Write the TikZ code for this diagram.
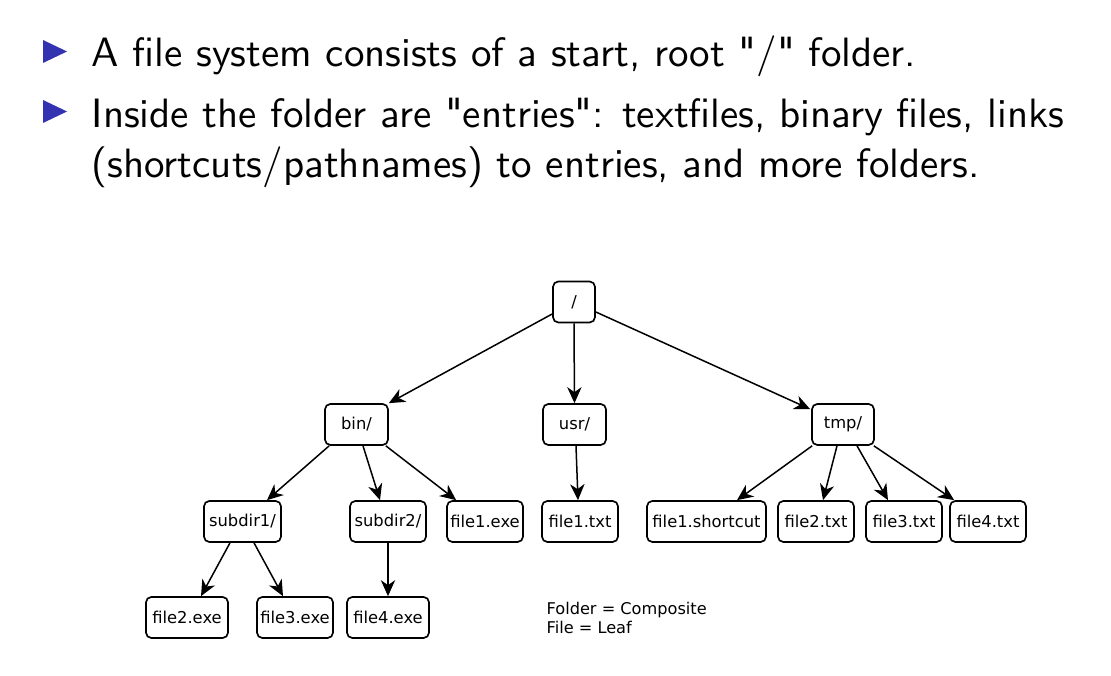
\documentclass[tikz,border=0pt]{standalone}
\usepackage{fontspec}
\newfontfamily\itemfont{lmsans10-regular.otf}[Ligatures=TeXOff]
\newfontfamily\treefont{DejaVu Sans}
\usetikzlibrary{arrows.meta,calc}
\definecolor{bulletblue}{RGB}{51,51,178}

\begin{document}
\begin{tikzpicture}[x=0.3pt,y=-0.3pt,
  entry/.style={draw, line width=0.5pt, rounded corners=1.6pt,
    minimum height=12.3pt, minimum width=#1*0.3pt, inner sep=0pt,
    font=\treefont\fontsize{4.9pt}{5.9pt}\selectfont},
  link/.style={line width=0.45pt, -{Stealth[length=4.8pt,width=4.3pt,inset=1.5pt]}},
  itemline/.style={anchor=base west, inner sep=0pt,
    font=\itemfont\fontsize{12.3pt}{14pt}\selectfont},
  legend/.style={anchor=base west, inner sep=0pt,
    font=\treefont\fontsize{4.85pt}{5.9pt}\selectfont}]

\useasboundingbox (0,0) rectangle (1111,676);

% bullets
\fill[bulletblue] (43,40) -- (67,51.5) -- (43,63) -- cycle;
\fill[bulletblue] (43,100) -- (67,111.5) -- (43,123) -- cycle;

% item text
\node[itemline] (itemA) at (91,67) {A file system consists of a start, root "/" folder.};
\node[itemline] (itemB) at (91,128) {Inside the folder are "entries": textfiles, binary files, links};
\node[itemline] (itemC) at (91,178) {(shortcuts/pathnames) to entries, and more folders.};

% tree
\node[entry=42] (root) at (574,302) {/};
\node[entry=63] (bin) at (356.5,424.5) {bin/};
\node[entry=63] (usr) at (574.5,424.5) {usr/};
\node[entry=62] (tmp) at (843,424.5) {tmp/};
\node[entry=77] (subdirA) at (242.5,521.5) {subdir1/};
\node[entry=76] (subdirB) at (388,521.5) {subdir2/};
\node[entry=76] (fileAexe) at (485,521.5) {file1.exe};
\node[entry=76] (fileAtxt) at (580,521.5) {file1.txt};
\node[entry=119] (shortcut) at (706.5,521.5) {file1.shortcut};
\node[entry=76] (fileBtxt) at (816,521.5) {file2.txt};
\node[entry=76] (fileCtxt) at (904,521.5) {file3.txt};
\node[entry=76] (fileDtxt) at (988,521.5) {file4.txt};
\node[entry=82] (fileBexe) at (187,617.5) {file2.exe};
\node[entry=76] (fileCexe) at (295,617.5) {file3.exe};
\node[entry=82] (fileDexe) at (388,617.5) {file4.exe};

\draw[link] ($(root.west)+(0,12)$) -- (bin.north east);
\draw[link] (root.south) -- (usr.north);
\draw[link] ($(root.east)+(0,10)$) -- ($(tmp.north west)+(-1,6)$);
\draw[link] ($(bin.south west)+(5,0)$) -- ($(subdirA.north)+(24.5,0)$);
\draw[link] ($(bin.south)+(6.5,0)$) -- ($(subdirB.north)+(-8,0)$);
\draw[link] ($(bin.south east)+(-3,0)$) -- ($(fileAexe.north west)+(10,0)$);
\draw[link] ($(usr.south)+(1.5,0)$) -- ($(fileAtxt.north)+(-2,0)$);
\draw[link] ($(tmp.south west)+(1,0)$) -- ($(shortcut.north)+(30.5,0)$);
\draw[link] ($(tmp.south)+(-6,0)$) -- ($(fileBtxt.north)+(7,0)$);
\draw[link] ($(tmp.south)+(14,0)$) -- ($(fileCtxt.north)+(-16,0)$);
\draw[link] ($(tmp.south east)+(-1,0)$) -- ($(fileDtxt.north west)+(5,0)$);
\draw[link] ($(subdirA.south)+(-12.5,0)$) -- ($(fileBexe.north)+(14,0)$);
\draw[link] ($(subdirA.south)+(11.5,0)$) -- ($(fileCexe.north)+(-12,0)$);
\draw[link] (subdirB.south) -- (fileDexe.north);

% legend
\node[legend] (legendA) at (546,615) {Folder = Composite};
\node[legend] (legendB) at (546,634) {File = Leaf};
\end{tikzpicture}
\end{document}
